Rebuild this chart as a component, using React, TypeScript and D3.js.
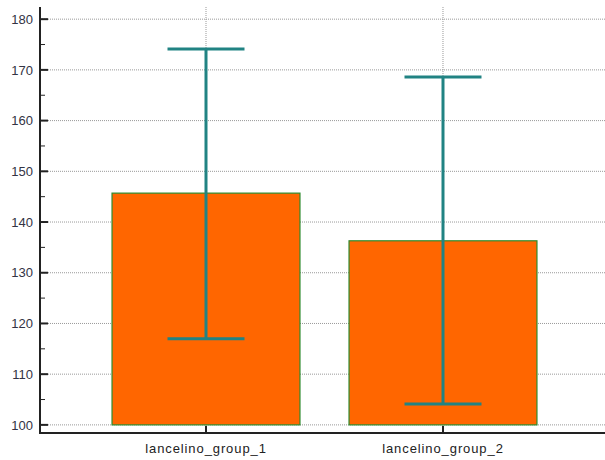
import React from "react";
import * as d3 from "d3";

const categories = ["lancelino_group_1", "lancelino_group_2"];
const means = [145.7, 136.3];
const errLow = [117.0, 104.1];
const errHigh = [174.1, 168.6];
const yTicks = [100, 110, 120, 130, 140, 150, 160, 170, 180];
const yMinorTicks = [105, 115, 125, 135, 145, 155, 165, 175];

const W = 605;
const H = 460;
const left = 40;
const right = 605;
const top = 7;
const bottom = 433;

export default function App() {
  const x = d3
    .scaleBand<string>()
    .domain(categories)
    .range([42, 607])
    .paddingInner(0.207)
    .paddingOuter(0.2955);
  const y = d3.scaleLinear().domain([98.4, 182.4]).range([bottom, top]);
  const bw = x.bandwidth();
  const capW = 77;
  const font = "'Liberation Sans', Arial, sans-serif";

  return (
    <svg
      width={W}
      height={H}
      style={{ position: "absolute", left: 0, top: 0, background: "#fff" }}
    >
      {/* horizontal grid */}
      {yTicks.map((t) => (
        <line
          key={"hg" + t}
          x1={left}
          x2={right}
          y1={y(t)}
          y2={y(t)}
          stroke="#999"
          strokeWidth={1}
          strokeDasharray="1,1"
        />
      ))}
      {/* vertical grid */}
      {categories.map((c) => (
        <line
          key={"vg" + c}
          x1={x(c)! + bw / 2}
          x2={x(c)! + bw / 2}
          y1={top}
          y2={bottom}
          stroke="#999"
          strokeWidth={1}
          strokeDasharray="1,1"
        />
      ))}
      {/* bars */}
      {categories.map((c, i) => (
        <rect
          key={"b" + c}
          x={x(c)!}
          y={y(means[i])}
          width={bw}
          height={y(100) - y(means[i])}
          fill="#FF6600"
          stroke="#2E8B2E"
          strokeWidth={1.2}
        />
      ))}
      {/* error bars */}
      {categories.map((c, i) => {
        const cx = x(c)! + bw / 2;
        return (
          <g key={"e" + c} stroke="#218383" strokeWidth={3}>
            <line x1={cx} x2={cx} y1={y(errHigh[i])} y2={y(errLow[i])} />
            <line x1={cx - capW / 2} x2={cx + capW / 2} y1={y(errHigh[i])} y2={y(errHigh[i])} />
            <line x1={cx - capW / 2} x2={cx + capW / 2} y1={y(errLow[i])} y2={y(errLow[i])} />
          </g>
        );
      })}
      {/* y axis */}
      <line x1={left} x2={left} y1={top} y2={bottom + 1} stroke="#222" strokeWidth={2} />
      {yTicks.map((t) => (
        <g key={"yt" + t}>
          <line x1={left} x2={left + 8} y1={y(t)} y2={y(t)} stroke="#222" strokeWidth={2} />
          <text
            x={left - 7}
            y={y(t)}
            dy="0.36em"
            textAnchor="end"
            fontFamily={font}
            fontSize={13}
            fill="#333344"
          >
            {t}
          </text>
        </g>
      ))}
      {yMinorTicks.map((t) => (
        <line key={"ym" + t} x1={left} x2={left + 5} y1={y(t)} y2={y(t)} stroke="#222" strokeWidth={1} />
      ))}
      {/* x axis */}
      <line x1={left - 1} x2={right} y1={bottom} y2={bottom} stroke="#222" strokeWidth={2} />
      {categories.map((c) => {
        const cx = x(c)! + bw / 2;
        return (
          <g key={"xt" + c}>
            <line x1={cx} x2={cx} y1={bottom} y2={bottom - 7} stroke="#222" strokeWidth={2} />
            <text
              x={cx}
              y={bottom + 20}
              textAnchor="middle"
              fontFamily={font}
              fontSize={13}
              letterSpacing={0.9}
              fill="#222"
            >
              {c}
            </text>
          </g>
        );
      })}
    </svg>
  );
}
